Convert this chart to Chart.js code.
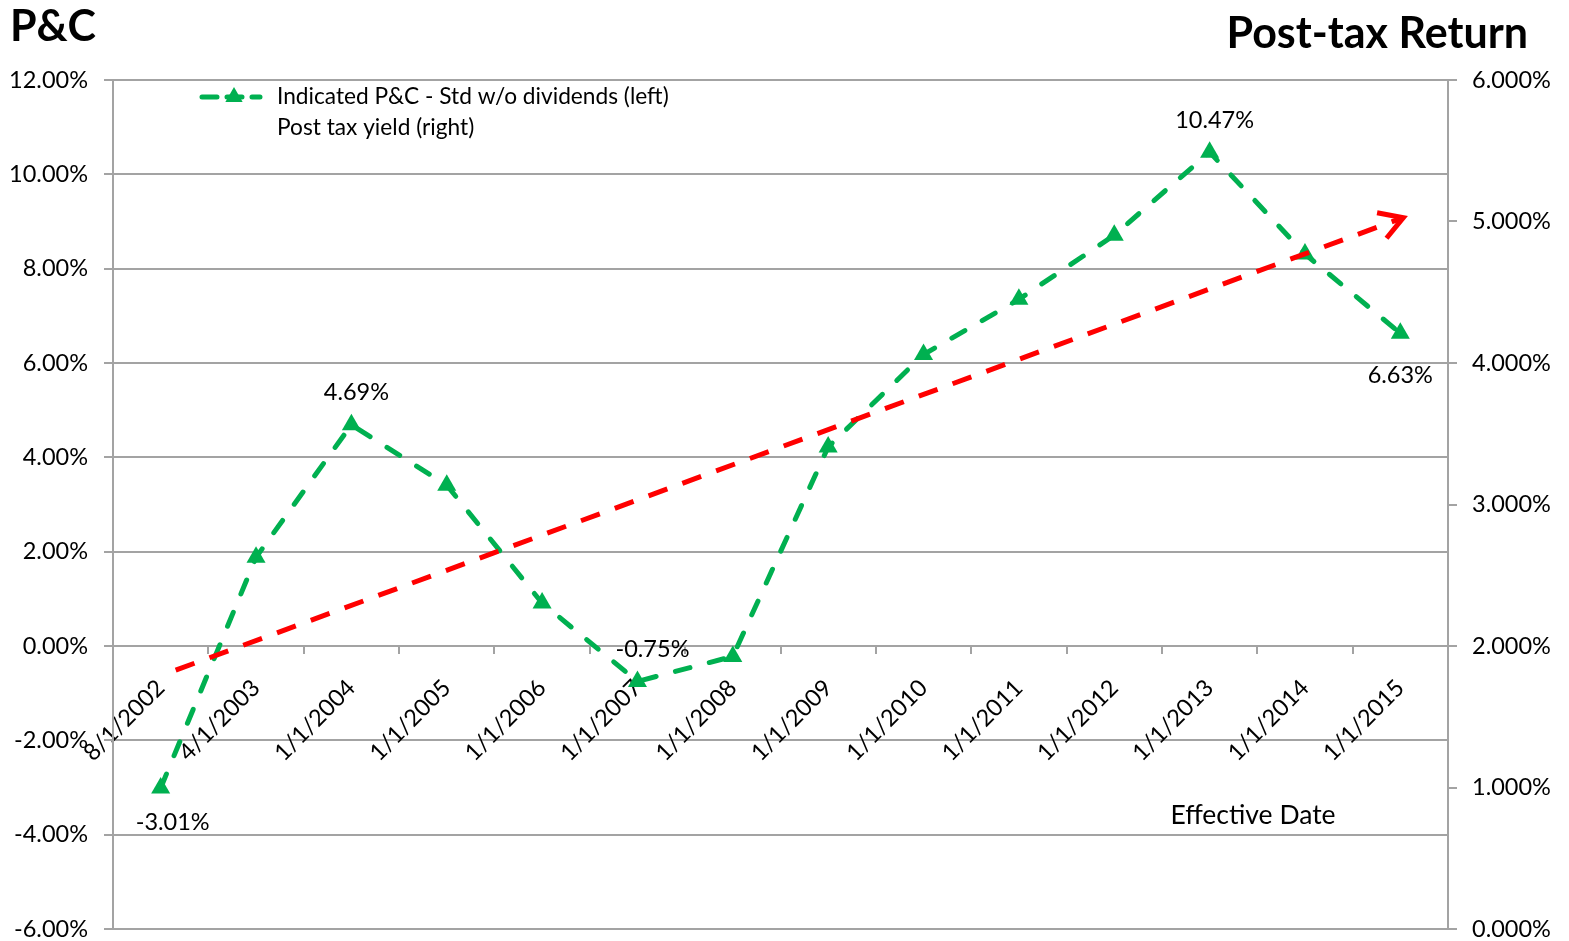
<!DOCTYPE html>
<html>
<head>
<meta charset="utf-8">
<script src="https://cdn.jsdelivr.net/npm/chart.js@4.4.1/dist/chart.umd.min.js"></script>
<style>
  html, body { margin: 0; padding: 0; background: #ffffff; }
  #wrap { position: relative; width: 1569px; height: 941px; }
</style>
</head>
<body>
<div id="wrap"><canvas id="chart" width="1569" height="941"></canvas></div>
<script>
// Effective dates (category axis)
const effectiveDates = ['8/1/2002', '4/1/2003', '1/1/2004', '1/1/2005', '1/1/2006', '1/1/2007', '1/1/2008',
  '1/1/2009', '1/1/2010', '1/1/2011', '1/1/2012', '1/1/2013', '1/1/2014', '1/1/2015'];

// Indicated P&C - Std w/o dividends, percent (left axis)
const indicatedPC = [-3.01, 1.88, 4.69, 3.41, 0.91, -0.75, -0.22, 4.22, 6.18, 7.35, 8.71, 10.47, 8.31, 6.63];

// Post tax yield trend, percent (right axis): start and end of the arrow
const postTaxYield = [1.79, null, null, null, null, null, null, null, null, null, null, null, null, 5.02];

// Axis ranges and tick steps
const leftAxis = { min: -6, max: 12, step: 2 };
const rightAxis = { min: 0, max: 6, step: 1 };

// Points whose values are printed, with their label placement
const labelledPoints = { 0: 'below', 2: 'above', 5: 'aboveRight', 11: 'above', 13: 'belowFar' };

const GREEN = '#00B050';
const RED = '#FF0000';
const GRID = '#a3a3a3';
const FONT = 'Lato, "Open Sans", sans-serif';

const decorations = {
  id: 'decorations',
  afterDatasetsDraw(chart) {
    const ctx = chart.ctx;
    // open arrow head at the end of the yield trend
    const meta = chart.getDatasetMeta(0);
    const pts = meta.data;
    const a = pts[0], b = pts[pts.length - 1];
    const ang = Math.atan2(b.y - a.y, b.x - a.x);
    const len = 24, spread = Math.PI / 5.2;
    ctx.save();
    ctx.strokeStyle = RED;
    ctx.lineWidth = 5;
    ctx.lineCap = 'butt';
    ctx.lineJoin = 'miter';
    ctx.beginPath();
    ctx.moveTo(b.x - len * Math.cos(ang - spread), b.y - len * Math.sin(ang - spread));
    ctx.lineTo(b.x + 3, b.y - 1);
    ctx.lineTo(b.x - len * Math.cos(ang + spread), b.y - len * Math.sin(ang + spread));
    ctx.stroke();
    ctx.restore();

    // value labels on the P&C series
    const gMeta = chart.getDatasetMeta(1);
    ctx.save();
    ctx.font = '23.5px ' + FONT;
    ctx.fillStyle = '#000';
    ctx.textAlign = 'center';
    ctx.textBaseline = 'middle';
    Object.keys(labelledPoints).forEach(k => {
      const i = +k;
      const p = gMeta.data[i];
      const txt = indicatedPC[i].toFixed(2) + '%';
      let dx = 0, dy = 0;
      switch (labelledPoints[k]) {
        case 'below': dx = 12; dy = 34; break;
        case 'above': dx = 5; dy = -32; break;
        case 'aboveRight': dx = 15; dy = -32; break;
        case 'belowFar': dx = 0; dy = 42; break;
      }
      ctx.fillText(txt, p.x + dx, p.y + dy);
    });
    ctx.restore();
  },
  afterDraw(chart) {
    const ctx = chart.ctx;
    const area = chart.chartArea;
    ctx.save();
    // headings
    ctx.fillStyle = '#000';
    ctx.font = 'bold 43px ' + FONT;
    ctx.textBaseline = 'alphabetic';
    ctx.textAlign = 'left';
    ctx.fillText('P&C', 10, 41);
    ctx.textAlign = 'right';
    ctx.fillText('Post-tax Return', 1528, 48);

    // axis title
    ctx.font = '26.5px ' + FONT;
    ctx.textAlign = 'center';
    ctx.textBaseline = 'middle';
    ctx.fillText('Effective Date', area.right - 195, area.bottom - 114);

    // legend
    const lx = 200, ly = area.top + 17;
    ctx.strokeStyle = GREEN;
    ctx.lineWidth = 5;
    ctx.lineCap = 'round';
    ctx.setLineDash([15, 10]);
    ctx.beginPath();
    ctx.moveTo(lx + 2, ly);
    ctx.lineTo(lx + 60, ly);
    ctx.stroke();
    ctx.setLineDash([]);
    ctx.fillStyle = GREEN;
    ctx.beginPath();
    const r = 10;
    const cx = lx + 34;
    ctx.moveTo(cx, ly - r);
    ctx.lineTo(cx + r * 0.866, ly + r / 2);
    ctx.lineTo(cx - r * 0.866, ly + r / 2);
    ctx.closePath();
    ctx.fill();
    ctx.fillStyle = '#000';
    ctx.font = '22.7px ' + FONT;
    ctx.textAlign = 'left';
    ctx.textBaseline = 'middle';
    ctx.fillText('Indicated P&C - Std w/o dividends (left)', 277, ly);
    ctx.fillText('Post tax yield (right)', 277, ly + 31);
    ctx.restore();
  }
};

// value axes: fixed widths, no extra vertical padding from end labels
const fitValueAxis = w => s => { s.width = w; s.paddingTop = 0; s.paddingBottom = 0; };

new Chart(document.getElementById('chart'), {
  type: 'line',
  data: {
    labels: effectiveDates,
    datasets: [
      {
        label: 'Post tax yield (right)',
        data: postTaxYield,
        yAxisID: 'y1',
        borderColor: RED,
        borderWidth: 5,
        borderDash: [20, 16],
        borderDashOffset: 20,
        borderCapStyle: 'butt',
        pointRadius: 0,
        spanGaps: true,
        tension: 0,
        fill: false,
        order: 0
      },
      {
        label: 'Indicated P&C - Std w/o dividends (left)',
        data: indicatedPC,
        yAxisID: 'y',
        borderColor: GREEN,
        backgroundColor: GREEN,
        borderWidth: 5,
        borderDash: [15, 20],
        borderCapStyle: 'round',
        pointStyle: 'triangle',
        pointRadius: 11,
        pointBorderWidth: 0,
        pointBackgroundColor: GREEN,
        tension: 0,
        fill: false,
        order: 1
      }
    ]
  },
  options: {
    responsive: false,
    animation: false,
    devicePixelRatio: 1,
    layout: { padding: { top: 80, bottom: 12, left: 0, right: 0 } },
    plugins: {
      legend: { display: false },
      tooltip: { enabled: false },
      title: { display: false }
    },
    scales: {
      x: {
        type: 'category',
        position: { y: 0 },
        offset: true,
        grid: {
          display: true,
          offset: true,
          drawOnChartArea: false,
          drawTicks: true,
          tickLength: 8,
          color: GRID,
          lineWidth: 2
        },
        border: { display: false },
        ticks: {
          autoSkip: false,
          minRotation: 45,
          maxRotation: 45,
          padding: 20,
          color: '#000',
          font: { family: FONT, size: 23.5 }
        }
      },
      y: {
        position: 'left',
        min: leftAxis.min,
        max: leftAxis.max,
        afterFit: fitValueAxis(113),
        grid: { color: GRID, lineWidth: 2, tickLength: 9 },
        border: { display: true, color: GRID, width: 2 },
        ticks: {
          stepSize: leftAxis.step,
          padding: 16,
          color: '#000',
          font: { family: FONT, size: 23.5 },
          callback: v => v.toFixed(2) + '%'
        }
      },
      y1: {
        position: 'right',
        min: rightAxis.min,
        max: rightAxis.max,
        afterFit: fitValueAxis(121),
        grid: { drawOnChartArea: false, color: GRID, lineWidth: 2, tickLength: 9 },
        border: { display: true, color: GRID, width: 2 },
        ticks: {
          stepSize: rightAxis.step,
          padding: 15,
          color: '#000',
          font: { family: FONT, size: 23.5 },
          callback: v => v.toFixed(3) + '%'
        }
      }
    }
  },
  plugins: [decorations]
});
</script>
</body>
</html>
